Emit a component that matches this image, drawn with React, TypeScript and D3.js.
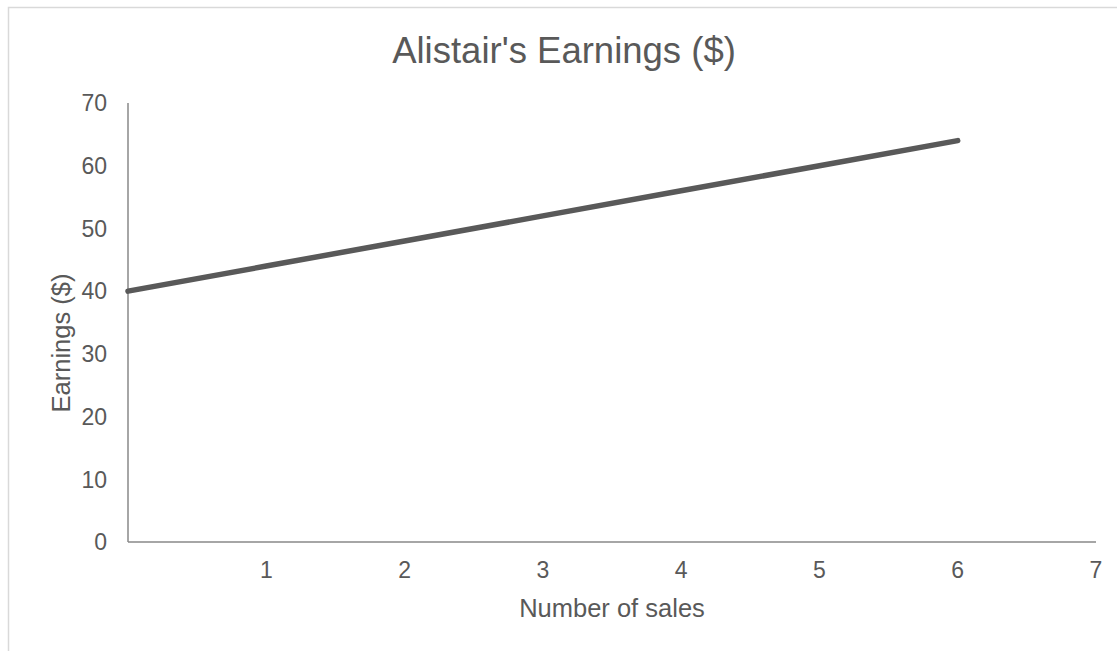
import React from "react";
import * as d3 from "d3";

const sales = [0, 1, 2, 3, 4, 5, 6];
const earnings = [40, 44, 48, 52, 56, 60, 64];
const xTicks = [1, 2, 3, 4, 5, 6, 7];
const yTicks = [0, 10, 20, 30, 40, 50, 60, 70];

const W = 1117;
const H = 651;
const FONT = "'Liberation Sans', Arial, sans-serif";
const TXT = "#595959";

export default function App() {
  const x = d3.scaleLinear().domain([0, 7]).range([128, 1096]);
  const y = d3.scaleLinear().domain([0, 70]).range([542, 103]);
  const line = d3
    .line<number>()
    .x((_, i) => x(sales[i]))
    .y((d) => y(d));

  return (
    <svg
      width={W}
      height={H}
      style={{ position: "absolute", left: 0, top: 0, background: "#fff" }}
      fontFamily={FONT}
    >
      <rect x={8.5} y={7.5} width={W + 20} height={H + 20} fill="#fff" stroke="#d9d9d9" strokeWidth={1.5} />
      <text x={564} y={63} textAnchor="middle" fontSize={36.5} fill={TXT}>
        Alistair's Earnings ($)
      </text>
      {yTicks.map((t) => (
        <text key={t} x={107} y={y(t)} dy="0.36em" textAnchor="end" fontSize={23} fill={TXT}>
          {t}
        </text>
      ))}
      {xTicks.map((t) => (
        <text key={t} x={x(t)} y={578} textAnchor="middle" fontSize={23} fill={TXT}>
          {t}
        </text>
      ))}
      <line x1={x(0)} x2={x(0)} y1={y(70)} y2={y(0)} stroke="#898989" strokeWidth={1.5} />
      <line x1={x(0)} x2={x(7)} y1={y(0)} y2={y(0)} stroke="#898989" strokeWidth={1.5} />
      <path d={line(earnings) || ""} fill="none" stroke="#595959" strokeWidth={5.5} strokeLinecap="round" />
      <text x={612} y={617} textAnchor="middle" fontSize={25.5} fill={TXT}>
        Number of sales
      </text>
      <text
        transform="translate(70,343) rotate(-90)"
        textAnchor="middle"
        fontSize={25.5}
        fill={TXT}
      >
        Earnings ($)
      </text>
    </svg>
  );
}
